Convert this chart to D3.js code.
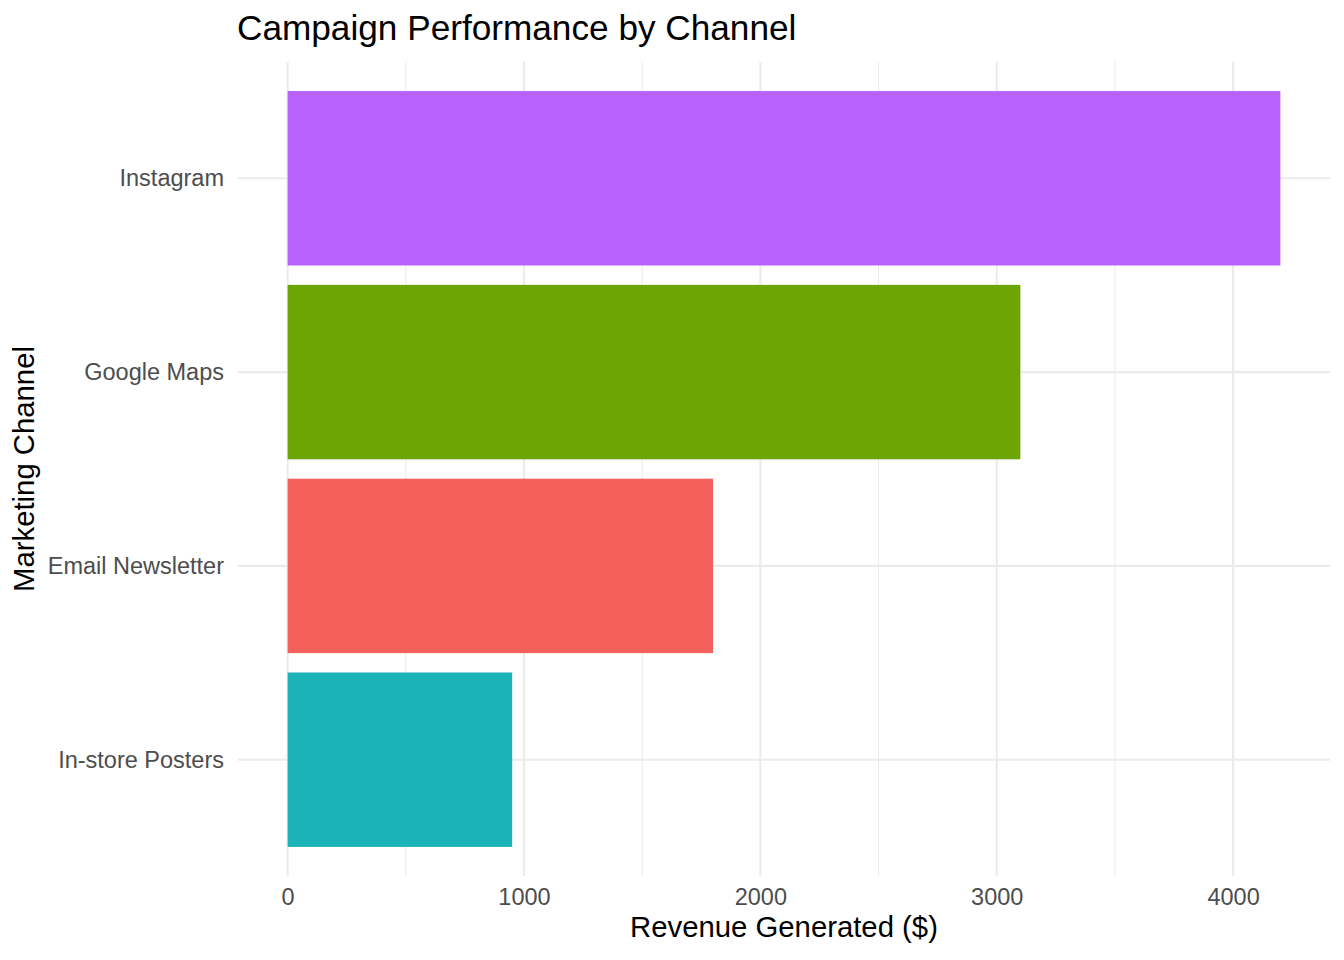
<!DOCTYPE html>
<html lang="en">
	<head>
		<meta charset="utf-8">
		<title>Campaign Performance by Channel</title>
		<style type="text/css">

		body {
			background-color: white;
			font-family: 'Liberation Sans', Arial, sans-serif;
			margin: 0px;
			padding: 0px;
		}

		svg {
			display: block;
		}

		.grid line {
			stroke: #ebebeb;
		}

		.axis path, .axis line {
			display: none;
		}

		.axis text {
			fill: #4d4d4d;
			font-size: 23.5px;
			font-family: 'Liberation Sans', Arial, sans-serif;
		}

		</style>
	</head>
	<body>
		<div id="chart"></div>

		<script src="https://d3js.org/d3.v7.min.js"></script>
		<script type="text/javascript">

			// bottom to top, as drawn
			const channels = ["In-store Posters", "Email Newsletter", "Google Maps", "Instagram"];
			const revenue = [950, 1800, 3100, 4200];
			const barColors = ["#1ab3b8", "#f4605c", "#6ca504", "#b961ff"];
			const xTicks = [0, 1000, 2000, 3000, 4000];
			const xMinor = [500, 1500, 2500, 3500];

			const width = 1344,
			    height = 960,
			    panel = {left: 238, right: 1330, top: 62, bottom: 876};

			const data = channels.map(function(d, i){
				return {channel: d, value: revenue[i], color: barColors[i]};
			});

			// ggplot-style 5% expansion
			const xMax = d3.max(revenue);
			const xScale = d3.scaleLinear()
				.domain([-xMax * 0.05, xMax * 1.05])
				.range([panel.left, panel.right]);

			// discrete axis: 0.6 units of padding each side, bars 0.9 wide
			const yPos = d3.scaleLinear()
				.domain([0.4, channels.length + 0.6])
				.range([panel.bottom, panel.top]);

			const svg = d3.select("#chart")
				.append("svg")
				.attr("width", width)
				.attr("height", height);

			const grid = svg.append("g").attr("class", "grid");

			grid.selectAll(null)
				.data(xMinor)
				.enter()
				.append("line")
				.attr("x1", function(d){ return xScale(d); })
				.attr("x2", function(d){ return xScale(d); })
				.attr("y1", panel.top)
				.attr("y2", panel.bottom)
				.style("stroke-width", "1.1px");

			grid.selectAll(null)
				.data(xTicks)
				.enter()
				.append("line")
				.attr("x1", function(d){ return xScale(d); })
				.attr("x2", function(d){ return xScale(d); })
				.attr("y1", panel.top)
				.attr("y2", panel.bottom)
				.style("stroke-width", "2.1px");

			grid.selectAll(null)
				.data(channels)
				.enter()
				.append("line")
				.attr("x1", panel.left)
				.attr("x2", panel.right)
				.attr("y1", function(_, i){ return yPos(i + 1); })
				.attr("y2", function(_, i){ return yPos(i + 1); })
				.style("stroke-width", "2.1px");

			svg.selectAll(".bars")
				.data(data)
				.enter()
				.append("rect")
				.attr("class", "bars")
				.attr("x", xScale(0))
				.attr("width", function(d){ return xScale(d.value) - xScale(0); })
				.attr("y", function(_, i){ return yPos(i + 1.45); })
				.attr("height", function(_, i){ return yPos(i + 0.55) - yPos(i + 1.45); })
				.style("fill", function(d){ return d.color; });

			const xAxis = d3.axisBottom(xScale)
				.tickValues(xTicks)
				.tickSize(0)
				.tickPadding(12)
				.tickFormat(d3.format("d"));

			svg.append("g")
				.attr("class", "x axis")
				.attr("transform", "translate(0," + panel.bottom + ")")
				.call(xAxis)
				.selectAll("text")
				.attr("dy", "0.71em");

			const yAxis = d3.axisLeft(d3.scalePoint()
					.domain(channels)
					.range([yPos(1), yPos(channels.length)]))
				.tickSize(0)
				.tickPadding(14);

			svg.append("g")
				.attr("class", "y axis")
				.attr("transform", "translate(" + panel.left + ",0)")
				.call(yAxis);

			svg.append("text")
				.attr("x", 237)
				.attr("y", 40)
				.style("font-size", "35.2px")
				.style("fill", "black")
				.text("Campaign Performance by Channel");

			svg.append("text")
				.attr("x", (panel.left + panel.right) / 2)
				.attr("y", 937)
				.attr("text-anchor", "middle")
				.style("font-size", "29.3px")
				.style("fill", "black")
				.text("Revenue Generated ($)");

			svg.append("text")
				.attr("transform", "translate(34," + ((panel.top + panel.bottom) / 2) + ") rotate(-90)")
				.attr("text-anchor", "middle")
				.style("font-size", "29.3px")
				.style("fill", "black")
				.text("Marketing Channel");

		</script>
	</body>
</html>
